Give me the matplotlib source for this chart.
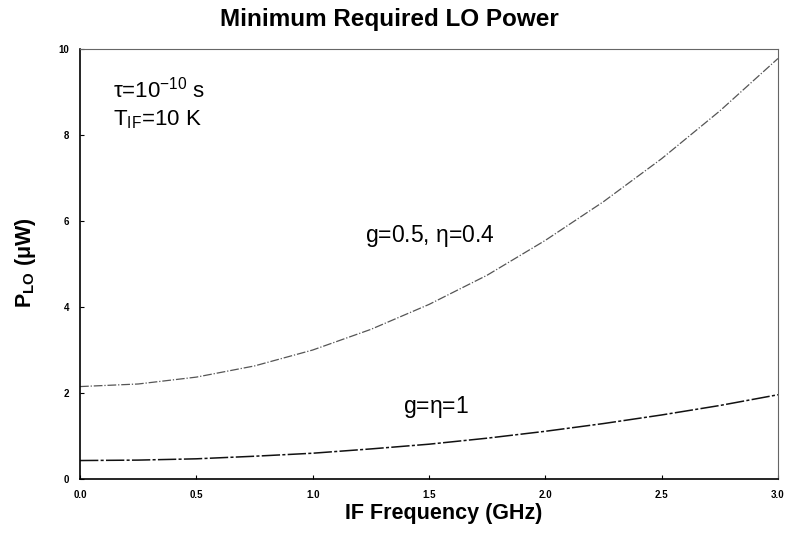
import matplotlib
matplotlib.use("Agg")
import matplotlib.pyplot as plt

plt.rcParams['font.family'] = ['Liberation Sans', 'DejaVu Sans']
plt.rcParams['mathtext.fontset'] = 'custom'
plt.rcParams['mathtext.rm'] = 'Liberation Sans'
plt.rcParams['mathtext.it'] = 'Liberation Sans'
plt.rcParams['mathtext.bf'] = 'Liberation Sans:bold'

freq = [0.0, 0.25, 0.5, 0.75, 1.0, 1.25, 1.5, 1.75, 2.0, 2.25, 2.5, 2.75, 3.0]
p_upper = [2.15, 2.21, 2.37, 2.63, 3.0, 3.48, 4.06, 4.74, 5.55, 6.45, 7.45, 8.56, 9.78]
p_lower = [0.43, 0.44, 0.47, 0.53, 0.60, 0.70, 0.81, 0.95, 1.11, 1.29, 1.49, 1.71, 1.96]

xticks = [0.0, 0.5, 1.0, 1.5, 2.0, 2.5, 3.0]
yticks = [0, 2, 4, 6, 8, 10]

fig = plt.figure(figsize=(7.86, 5.52), dpi=100)
ax = fig.add_axes([0.1018, 0.1322, 0.888, 0.779])

ax.plot(freq, p_upper, color="#555555", lw=0.9, ls=(0, (7, 1.5, 1, 1.5)))
ax.plot(freq, p_lower, color="#111111", lw=1.1, ls=(0, (12, 1.5, 2, 1.5)))

ax.set_xlim(0, 3.0)
ax.set_ylim(0, 10)
ax.set_xticks(xticks)
ax.set_xticklabels([f"{t:.1f}" for t in xticks])
ax.set_yticks(yticks)
ax.set_yticklabels([str(t) for t in yticks])
ax.tick_params(direction="in", length=3, width=0.8, labelsize=7, pad=8)
for lbl in ax.get_xticklabels() + ax.get_yticklabels():
    lbl.set_fontweight("bold")

for side in ["left", "bottom"]:
    ax.spines[side].set_linewidth(1.2)
for side in ["top", "right"]:
    ax.spines[side].set_linewidth(0.8)
    ax.spines[side].set_linestyle((0, (2, 1)))
    ax.spines[side].set_color("#666666")

fig.text(0.496, 0.965, "Minimum Required LO Power", ha="center", va="center",
         fontsize=17.5, fontweight="bold")
fig.text(0.564, 0.07, "IF Frequency (GHz)", ha="center", va="center",
         fontsize=15.5, fontweight="bold")
fig.text(0.033, 0.525, r"P$_{\mathbf{LO}}$ ($\mathbf{\mu}$W)", ha="center", va="center",
         rotation=90, fontsize=15.5, fontweight="bold")

ax.text(0.14, 8.88, r"$\tau$=10$^{-10}$ s", fontsize=16)
ax.text(0.14, 8.23, r"T$_{\mathrm{IF}}$=10 K", fontsize=16)
ax.text(1.225, 5.51, r"g=0.5, $\eta$=0.4", fontsize=16.5)
ax.text(1.39, 1.53, r"g=$\eta$=1", fontsize=16.5)

fig.savefig("out.png", dpi=100)
